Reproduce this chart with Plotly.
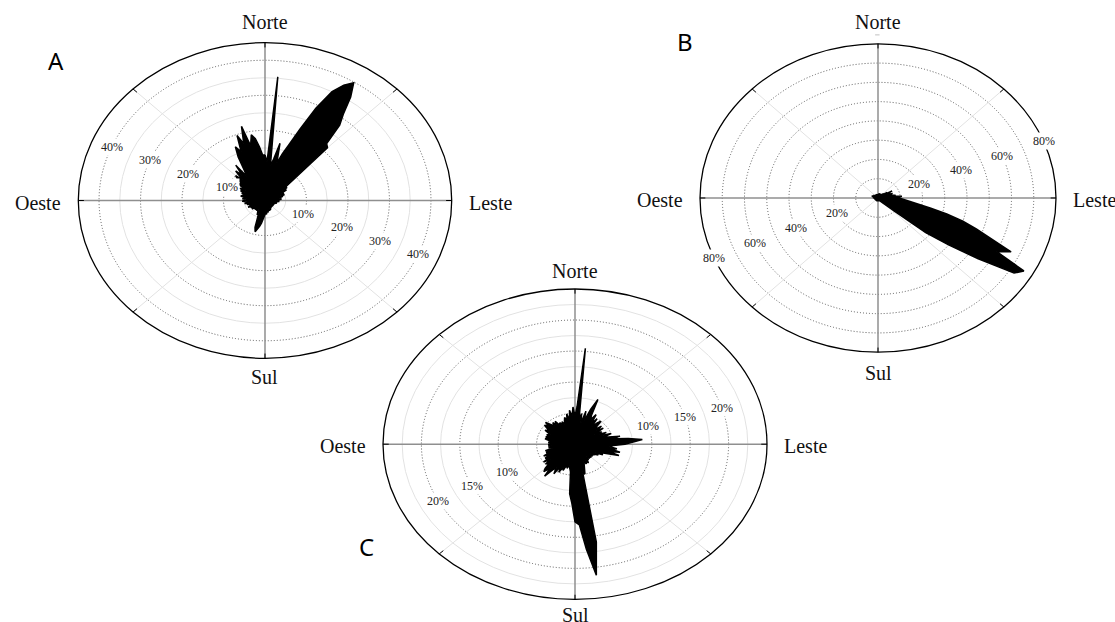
import numpy as np
import plotly.graph_objects as go

W, H = 1115, 622

# Direction bins: bearing in degrees, clockwise from north (2.5 degree steps)
bearing = [i * 2.5 for i in range(144)]

# Relative frequency (%) per direction bin, panel A
freq_a = [13, 11, 35.4, 10, 12, 16.7, 11, 14, 17, 22, 29, 35,
          38, 39.8, 36, 31, 28, 22, 21.3, 10, 8, 6, 6.5, 5,
          6, 4.5, 5, 4, 5, 4, 4.5, 3.5, 4, 3.5, 4, 3,
          3.5, 3, 3.5, 2.5, 3, 2.5, 3, 2.5, 2.5, 2, 2.5, 2,
          2.5, 2, 2.5, 2, 2.5, 2, 2.5, 2, 2.5, 2, 2.5, 2.5,
          2.5, 3, 2.5, 3, 3, 2.5, 3, 3.5, 3, 3.5, 4, 3.5,
          4, 4.5, 5.5, 6.5, 7.5, 8.5, 9.2, 8, 5, 4, 4.5, 3.5,
          3.5, 3, 3.5, 3, 3, 3.5, 3, 3.5, 3, 4, 3.5, 3,
          4, 3.5, 4.5, 3.5, 4, 3.5, 4.5, 4, 5, 4, 4.5, 5.5,
          5, 4.5, 5.5, 4.5, 5, 6, 5.5, 4.5, 6, 5, 6.5, 6,
          7, 5.5, 7, 8, 7, 9, 10, 8, 11, 9, 12.3, 8,
          10, 14, 16.9, 15, 19.7, 17, 21.9, 16, 19, 17.8, 15.4, 13]

# Panel B
freq_b = [2, 1.5, 2, 1.5, 2, 2.5, 2, 1.5, 2, 2.5, 2, 1.5,
          2, 2.5, 2, 1.5, 2.5, 2, 3, 2.5, 3.5, 3, 5, 4,
          7.3, 5, 6, 4.5, 7, 5, 6, 6.5, 8, 7.5, 10.8, 8.5,
          9.5, 11, 13, 15, 18, 24, 32, 40, 47, 55, 66, 60,
          75.7, 72.5, 55, 40, 28, 10, 3, 2, 2, 1.5, 2, 1.5,
          1.5, 1.5, 1.5, 1.5, 1.5, 1.5, 1.5, 1.5, 1.5, 1.5, 1.5, 1.5,
          1.5, 1.5, 1.5, 1.5, 1.5, 1.5, 1.5, 1.5, 1.5, 1.5, 1.5, 1.5,
          1.5, 1.5, 1.5, 1.5, 1.5, 1.5, 1.5, 1.5, 1.5, 1.5, 1.5, 1.5,
          1.5, 1.5, 1.5, 1.5, 1.5, 1.5, 1.5, 1.5, 1.5, 1.5, 2, 1.5,
          2, 1.5, 2, 2, 2.5, 2, 2.5, 2, 3, 2.5, 3, 2.5,
          2.5, 2, 2.5, 2, 2, 1.5, 2, 1.5, 2, 1.5, 2, 1.5,
          2, 1.5, 2, 1.5, 2, 1.5, 2, 1.5, 2, 1.5, 2, 1.5]

# Panel C
freq_c = [4.5, 6, 15.5, 4, 5, 3.5, 5.5, 4, 6, 7.8, 5, 4.5,
          5.5, 4, 5, 3.5, 4.5, 5, 4, 3.5, 4.5, 3.5, 4.5, 3,
          4, 3.5, 4.5, 3.5, 5, 4, 4.5, 6, 5, 7, 8.8, 7.5,
          6.5, 5, 4.5, 5.5, 5, 6, 4.5, 6, 4, 3.5, 4, 3,
          3.5, 3, 3, 2.5, 3, 2.5, 3, 2.5, 3, 2.5, 3, 3,
          3.5, 3, 3.5, 3, 3.5, 4, 5, 4.5, 16, 21.3, 17, 13,
          12.5, 9.5, 8, 4.5, 4, 3.5, 4, 3.5, 4.5, 4, 5, 4,
          5.5, 4.5, 5, 6.5, 5, 6, 5.5, 4.5, 5, 4, 5, 4,
          4.5, 3.5, 4.5, 3.5, 4, 3.5, 4, 3, 3.5, 3, 3.5, 3,
          3.5, 3, 3.5, 3, 3.5, 4, 3.5, 4, 3.5, 4, 3.5, 4,
          4.5, 4, 4.5, 5, 4.5, 5.2, 4.5, 4, 4.5, 4, 4.5, 3.5,
          4, 3.5, 4, 3.5, 4, 4.5, 4, 5, 4, 5.5, 4.5, 6]

# Radial grid rings (%) and labelled ticks per panel
rings_a = [5, 10, 15, 20, 25, 30, 35, 40]
ticks_a = [10, 20, 30, 40]
rings_b = [10, 20, 30, 40, 50, 60, 70]
ticks_b = [20, 40, 60, 80]
rings_c = [2.5, 5, 7.5, 10, 12.5, 15, 17.5, 20, 22.5]
ticks_c = [10, 15, 20]

compass = ["Norte", "Sul", "Leste", "Oeste"]

panels = [
    dict(name="A", freq=freq_a, rings=rings_a, ticks=ticks_a, rmax=45, dotted_step=10,
         cx=265, cy=200.5, rx=186.7, ry=157.8, lab_ang=(157.5, -22.5),
         n_shift=20.5, s_shift=-19, letter=(55.7, 60.5)),
    dict(name="B", freq=freq_b, rings=rings_b, ticks=ticks_b, rmax=80, dotted_step=10,
         cx=878, cy=198, rx=178, ry=154.2, lab_ang=(21.5, 203),
         n_shift=21.5, s_shift=-20.4, letter=(685.3, 41.3)),
    dict(name="C", freq=freq_c, rings=rings_c, ticks=ticks_c, rmax=25, dotted_step=5,
         cx=575, cy=444.2, rx=192, ry=155.2, lab_ang=(17, 207),
         n_shift=18, s_shift=-15.5, letter=(366.7, 546.7)),
]

SERIF = "Liberation Serif"
fig = go.Figure()
shapes, annotations = [], []
PAD = 1.06

for i, p in enumerate(panels):
    sfx = "" if i == 0 else str(i + 1)
    xr, yr = "x" + sfx, "y" + sfx
    R = p["rmax"]
    # axis domain placed so that [-R, R] spans the ellipse of the panel
    xd = [(p["cx"] - p["rx"] * PAD) / W, (p["cx"] + p["rx"] * PAD) / W]
    yd = [1 - (p["cy"] + p["ry"] * PAD) / H, 1 - (p["cy"] - p["ry"] * PAD) / H]
    fig.layout["xaxis" + sfx] = dict(domain=xd, range=[-R * PAD, R * PAD], visible=False,
                                     anchor=yr, fixedrange=True)
    fig.layout["yaxis" + sfx] = dict(domain=yd, range=[-R * PAD, R * PAD], visible=False,
                                     anchor=xr, fixedrange=True)

    # grid rings: labelled steps dotted, intermediate steps light solid
    for r in p["rings"]:
        dotted = abs(r / p["dotted_step"] - round(r / p["dotted_step"])) < 1e-9
        shapes.append(dict(type="circle", xref=xr, yref=yr, x0=-r, x1=r, y0=-r, y1=r,
                           layer="below",
                           line=dict(color="#5a5a5a" if dotted else "#e2e2e2",
                                     width=1, dash="1px,2px" if dotted else "solid")))
    # diagonal spokes
    c45 = np.cos(np.pi / 4) * R
    for sx in (1, -1):
        shapes.append(dict(type="line", xref=xr, yref=yr, x0=-c45, y0=-sx * c45,
                           x1=c45, y1=sx * c45, layer="below",
                           line=dict(color="#e2e2e2", width=1)))
    # main axes
    shapes.append(dict(type="line", xref=xr, yref=yr, x0=-R, y0=0, x1=R, y1=0,
                       layer="below", line=dict(color="#8f8f8f", width=1.5)))
    shapes.append(dict(type="line", xref=xr, yref=yr, x0=0, y0=-R, x1=0, y1=R,
                       layer="below", line=dict(color="#8f8f8f", width=1.5)))
    # outer boundary and ticks
    shapes.append(dict(type="circle", xref=xr, yref=yr, x0=-R, x1=R, y0=-R, y1=R,
                       layer="below", line=dict(color="black", width=1.3)))
    for a in range(0, 360, 45):
        t = np.radians(a)
        shapes.append(dict(type="line", xref=xr, yref=yr,
                           x0=0.97 * R * np.sin(t), y0=0.97 * R * np.cos(t),
                           x1=R * np.sin(t), y1=R * np.cos(t), layer="below",
                           line=dict(color="black", width=1)))

    # rose polygon
    th = np.radians(bearing + [bearing[0]])
    rv = np.array(p["freq"] + [p["freq"][0]])
    fig.add_trace(go.Scatter(x=rv * np.sin(th), y=rv * np.cos(th), xaxis=xr, yaxis=yr,
                             mode="lines", fill="toself", fillcolor="black",
                             line=dict(color="black", width=1.5), hoverinfo="skip",
                             showlegend=False))

    # percentage labels on two opposite sides
    for ang in p["lab_ang"]:
        t = np.radians(ang)
        for v in p["ticks"]:
            annotations.append(dict(xref=xr, yref=yr, x=v * np.cos(t), y=v * np.sin(t),
                                    text=f"{v}%", showarrow=False, bgcolor="white",
                                    borderpad=1, xanchor="center", yanchor="middle",
                                    font=dict(family=SERIF, size=12, color="#222")))

    # compass labels
    fnt = dict(family=SERIF, size=20, color="#111")
    annotations += [
        dict(xref=xr, yref=yr, x=0, y=R, text=compass[0], showarrow=False,
             xanchor="center", yanchor="middle", yshift=p["n_shift"], font=fnt),
        dict(xref=xr, yref=yr, x=0, y=-R, text=compass[1], showarrow=False,
             xanchor="center", yanchor="middle", yshift=p["s_shift"], font=fnt),
        dict(xref=xr, yref=yr, x=R, y=0, text=compass[2], showarrow=False,
             xanchor="left", yanchor="middle", xshift=15, yshift=-2, font=fnt),
        dict(xref=xr, yref=yr, x=-R, y=0, text=compass[3], showarrow=False,
             xanchor="right", yanchor="middle", xshift=-15, yshift=-2, font=fnt),
    ]
    # panel letter
    lx, ly = p["letter"]
    annotations.append(dict(xref="paper", yref="paper", x=lx / W, y=1 - ly / H,
                            xanchor="center", yanchor="middle",
                            text=p["name"], showarrow=False,
                            font=dict(family="Noto Sans", size=24, color="black")))

# small mark above the north end of panel B
shapes.append(dict(type="line", xref="x2", yref="y2", x0=-1.3, x1=0.7, y0=84.7, y1=84.7,
                   line=dict(color="#999", width=1)))

fig.update_layout(width=W, height=H, margin=dict(l=0, r=0, t=0, b=0),
                  paper_bgcolor="white", plot_bgcolor="rgba(0,0,0,0)",
                  shapes=shapes, annotations=annotations, showlegend=False)

fig.write_html("out.html")
